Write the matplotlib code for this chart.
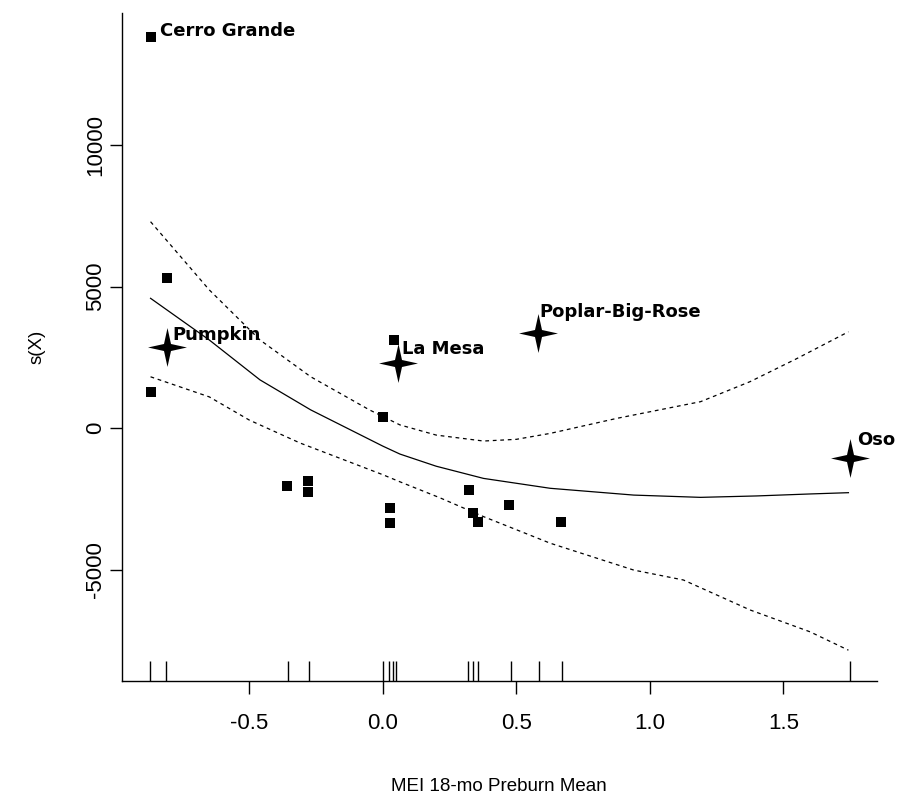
import matplotlib
matplotlib.use('Agg')
import matplotlib.pyplot as plt
import numpy as np
from matplotlib.path import Path

# points (squares = residuals, stars = labelled fires)
sq_x = [-0.87, -0.81, -0.87, -0.36, -0.28, -0.28, 0.0, 0.027, 0.027, 0.04,
        0.323, 0.337, 0.355, 0.473, 0.668]
sq_y = [13816, 5300, 1272, -2040, -1873, -2250, 400, -2838, -3370, 3110,
        -2190, -3015, -3310, -2720, -3310]

star_x = [-0.81, 0.055, 0.58, 1.75]
star_y = [2862, 2297, 3357, -1060]

fire_names = ['Cerro Grande', 'Pumpkin', 'La Mesa', 'Poplar-Big-Rose', 'Oso']

# smooth and its confidence band
fit_x = [-0.87, -0.65, -0.46, -0.27, 0.0, 0.064, 0.2, 0.377, 0.627, 0.94,
         1.19, 1.4, 1.6, 1.744]
fit_y = [4583, 3110, 1700, 640, -640, -920, -1350, -1780, -2130, -2370,
         -2450, -2400, -2330, -2285]

up_x = [-0.87, -0.65, -0.46, -0.27, -0.05, 0.064, 0.2, 0.377, 0.5, 0.627,
        0.876, 1.19, 1.376, 1.55, 1.744]
up_y = [7290, 4880, 3110, 1810, 640, 110, -250, -460, -400, -190,
        340, 930, 1640, 2450, 3400]

lo_x = [-0.87, -0.65, -0.5, -0.31, 0.0, 0.064, 0.215, 0.377, 0.627, 0.94,
        1.126, 1.376, 1.6, 1.744]
lo_y = [1810, 1100, 280, -530, -1650, -1900, -2470, -3130, -4070, -5020,
        -5370, -6430, -7200, -7850]

rug_x = [-0.872, -0.812, -0.354, -0.276, 0.0, 0.024, 0.037, 0.049,
         0.32, 0.339, 0.358, 0.48, 0.586, 0.672, 1.751]

# 4 pointed star marker
a = 0.18
star_verts = [(0, 1), (a, a), (1, 0), (a, -a), (0, -1), (-a, -a), (-1, 0), (-a, a), (0, 1)]
star_marker = Path(star_verts, closed=True)

fig = plt.figure(figsize=(8.97, 7.97), dpi=100)
ax = fig.add_axes([0.1357, 0.1455, 0.8417, 0.8382])

ax.plot(fit_x, fit_y, color='black', lw=0.9)
ax.plot(up_x, up_y, color='black', lw=0.9, dashes=(3, 3))
ax.plot(lo_x, lo_y, color='black', lw=0.9, dashes=(3, 3))

ax.plot(sq_x, sq_y, 's', color='black', ms=6.5, mew=0)
ax.scatter(star_x, star_y, marker=star_marker, s=28 ** 2, color='black', lw=0, zorder=3)

# rug along the bottom
for rx in rug_x:
    ax.plot([rx, rx], [-8940, -8940 + 20 / 0.0283], color='black', lw=1.0, solid_capstyle='butt')

# labels
lab_pts = [(sq_x[0], sq_y[0])] + list(zip(star_x, star_y))
lab_off = [(7, 4), (4, 9), (3, 10), (1, 15), (5, 13)]
for name, (px, py), off in zip(fire_names, lab_pts, lab_off):
    ax.annotate(name, (px, py), xytext=off, textcoords='offset points',
                ha='left', va='center', fontsize=13, fontweight='bold',
                family='DejaVu Sans')

ax.set_xlim(-0.978, 1.850)
ax.set_ylim(-8940, 14664)

ax.spines['top'].set_visible(False)
ax.spines['right'].set_visible(False)
for s in ['left', 'bottom']:
    ax.spines[s].set_linewidth(1.0)

ax.set_xticks([-0.5, 0.0, 0.5, 1.0, 1.5])
ax.set_xticklabels(['-0.5', '0.0', '0.5', '1.0', '1.5'])
ax.set_yticks([-5000, 0, 5000, 10000])
ax.set_yticklabels(['-5000', '0', '5000', '10000'], rotation=90, va='center')
ax.tick_params(axis='both', direction='out', length=9, width=1.0,
               labelsize=16, colors='black')
ax.tick_params(axis='x', pad=14)
ax.tick_params(axis='y', pad=2)
for t in ax.get_xticklabels() + ax.get_yticklabels():
    t.set_family('Liberation Sans')

ax.set_xlabel('MEI 18-mo Preburn Mean', fontsize=13.5, family='Liberation Sans', labelpad=32)
ax.set_ylabel('s(X)', fontsize=13.5, family='Liberation Sans', labelpad=29)

fig.savefig('out.png', dpi=100, facecolor='white')
